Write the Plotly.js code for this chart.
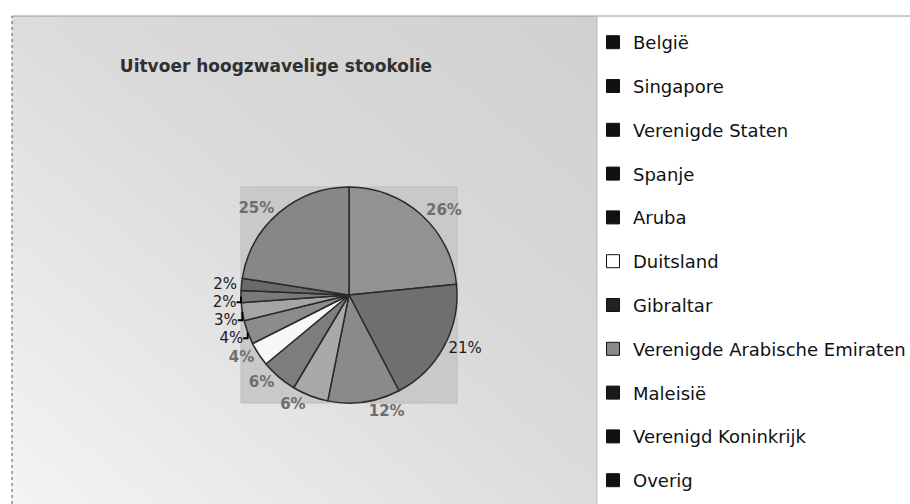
<!DOCTYPE html>
<html>
<head>
<meta charset="utf-8">
<script src="https://cdn.plot.ly/plotly-3.0.1.min.js"></script>
<style>html,body{margin:0;padding:0;background:#fff;}#chart{width:910px;height:504px;}</style>
</head>
<body>
<div id="chart"></div>
<script>
// ---- data ----
var categories = ["België","Singapore","Verenigde Staten","Spanje","Aruba","Duitsland","Gibraltar","Verenigde Arabische Emiraten","Maleisië","Verenigd Koninkrijk","Overig"];
var shares = [26, 21, 12, 6, 6, 4, 4, 3, 2, 2, 25];
var title = "Uitvoer hoogzwavelige stookolie";

// ---- styles ----
var sliceColors = ["#929292","#6f6f6f","#8a8a8a","#a9a9a9","#7d7d7d","#f7f7f7","#8c8c8c","#a5a5a5","#7a7a7a","#6a6a6a","#878787"];
var faded = [true, false, true, true, true, true, false, false, false, false, true];
var labelColors = faded.map(function(f){ return f ? "#6e6e6e" : "#1a1a1a"; });
var labelTemplates = faded.map(function(f){ return f ? "<b>%{value}%</b>" : "%{value}%"; });
var legendColors = ["#111","#111","#111","#111","#111","#ffffff","#222","#8a8a8a","#1a1a1a","#111","#111"];

var W = 910, H = 504;
var cx = 349, cy = 295, r = 108;
var dom = {x:[(cx-r)/W,(cx+r)/W], y:[(H-cy-r)/H,(H-cy+r)/H]};

var traces = [{
  type: "pie",
  labels: categories,
  values: shares,
  sort: false,
  direction: "clockwise",
  rotation: 0,
  domain: dom,
  marker: {colors: sliceColors, line: {color: "#2a2a2a", width: 1.5}},
  textposition: "outside",
  texttemplate: labelTemplates,
  textfont: {family: "DejaVu Sans", size: 15, color: labelColors},
  showlegend: false,
  hoverinfo: "label+value"
}];
categories.forEach(function(c, i){
  traces.push({
    type: "scatter", mode: "markers", x: [null], y: [null],
    name: c, legendgroup: "g"+i, showlegend: true,
    marker: {symbol: "square", size: 13, color: legendColors[i], line: {color: "#111", width: 1}},
    hoverinfo: "skip"
  });
});

var grad = 'data:image/svg+xml;utf8,' + encodeURIComponent(
  '<svg xmlns="http://www.w3.org/2000/svg" width="100" height="100" preserveAspectRatio="none">' +
  '<defs><linearGradient id="g" x1="1" y1="0" x2="0" y2="1">' +
  '<stop offset="0" stop-color="#d0d0d0"/><stop offset="0.45" stop-color="#dadada"/><stop offset="1" stop-color="#f4f4f4"/>' +
  '</linearGradient></defs><rect width="100" height="100" fill="url(#g)"/></svg>');

var layout = {
  width: W, height: H,
  margin: {l: 0, r: 0, t: 0, b: 0, autoexpand: false},
  paper_bgcolor: "#ffffff",
  plot_bgcolor: "rgba(0,0,0,0)",
  xaxis: {visible: false}, yaxis: {visible: false},
  title: {text: "<b>" + title + "</b>", x: 276/W, xanchor: "center", y: 1-66/H, yanchor: "middle",
          font: {family: "DejaVu Sans", size: 17, color: "#303030"}},
  images: [{source: grad, xref: "paper", yref: "paper", x: 12/W, y: 1-16/H, sizex: (597-12)/W, sizey: (H-16)/H,
            sizing: "stretch", layer: "below", xanchor: "left", yanchor: "top"}],
  shapes: [
    {type: "rect", xref: "paper", yref: "paper", x0: dom.x[0], x1: dom.x[1], y0: dom.y[0], y1: dom.y[1],
     fillcolor: "#c9c9c9", line: {color: "#bdbdbd", width: 1}, layer: "below"},
    {type: "line", xref: "paper", yref: "paper", x0: 12/W, x1: 1, y0: 1-16/H, y1: 1-16/H, line: {color: "#9a9a9a", width: 1}},
    {type: "line", xref: "paper", yref: "paper", x0: 12/W, x1: 12/W, y0: 0, y1: 1-16/H, line: {color: "#555", width: 1, dash: "dot"}},
    {type: "line", xref: "paper", yref: "paper", x0: 597/W, x1: 597/W, y0: 0, y1: 1-16/H, line: {color: "#bbbbbb", width: 1}}
  ],
  legend: {x: 593/W, xanchor: "left", y: 1-24/H, yanchor: "top", traceorder: "grouped", tracegroupgap: 17.4,
           bgcolor: "rgba(0,0,0,0)", font: {family: "DejaVu Sans", size: 18, color: "#111"}},
  showlegend: true
};

Plotly.newPlot("chart", traces, layout, {displayModeBar: false, staticPlot: true});
</script>
</body>
</html>
